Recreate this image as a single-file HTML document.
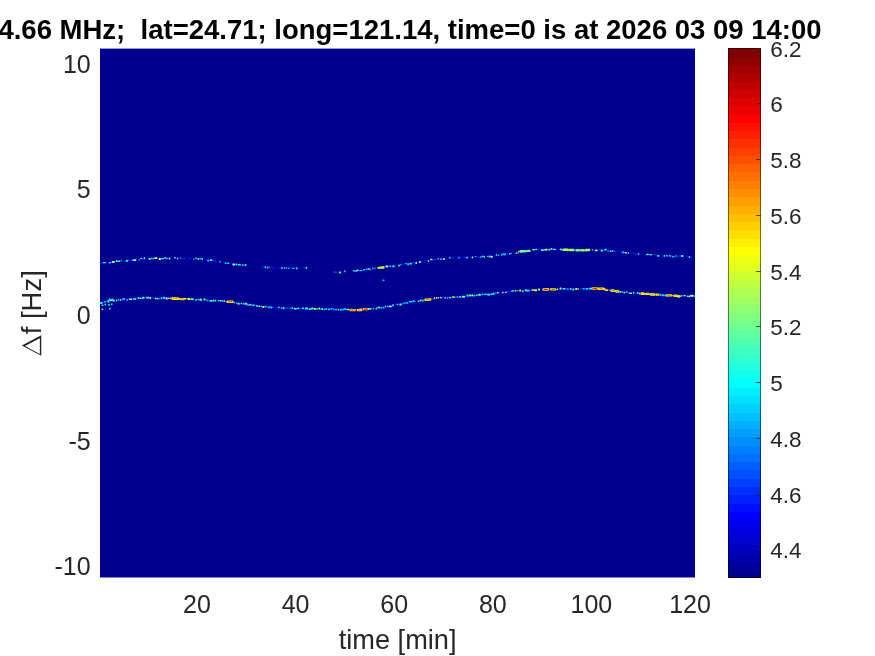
<!DOCTYPE html>
<html><head><meta charset="utf-8"><title>spectrogram</title>
<style>
html,body{margin:0;padding:0;background:#fff;}
body{width:875px;height:656px;overflow:hidden;font-family:"Liberation Sans",sans-serif;}
svg{display:block;will-change:transform;transform:translateZ(0);}
svg text{font-family:"Liberation Sans",sans-serif;white-space:pre;}
#labels{fill:#262626;}
</style></head><body>
<svg width="875" height="656" viewBox="0 0 875 656">
<g id="plot">
<rect x="100.0" y="48.6" width="595.0" height="528.9" fill="#00008f"/>
<g shape-rendering="auto">
<path d="M100.0,263.6 L103.0,263.2 L106.0,262.8 L109.0,262.4 L112.0,262.0 L115.0,261.6 L118.0,261.3 L121.0,260.9 L124.0,260.6 L127.0,260.3 L130.0,260.0 L133.0,259.7 L136.0,259.4 L139.0,259.2 L142.0,258.9 L145.0,258.6 L148.0,258.5 L151.0,258.5 L154.0,258.4 L157.0,258.4 L160.0,258.4 L163.0,258.4 L166.0,258.4 L169.0,258.3 L172.0,258.3 L175.0,258.3 L178.0,258.4 L181.0,258.5 L184.0,258.5 L187.0,258.6 L190.0,258.7 L193.0,258.8 L196.0,258.9 L199.0,259.0 L202.0,259.2 L205.0,259.7 L208.0,260.2 L211.0,260.6 L214.0,261.1 L217.0,261.6 L220.0,262.0 L223.0,262.5 L226.0,263.0 L229.0,263.4 L232.0,263.9 L235.0,264.4 L238.0,264.8 L241.0,265.0 L244.0,265.3 L247.0,265.5 L250.0,265.7 L250.0,265.7 M262.0,266.7 L265.0,267.0 L268.0,267.2 L271.0,267.4 L274.0,267.7 L277.0,267.9 L280.0,268.0 L283.0,268.0 L286.0,268.0 L289.0,268.0 L292.0,268.0 L295.0,268.0 L298.0,268.0 L301.0,268.0 L304.0,268.0 L305.0,268.2 M333.0,271.9 L336.0,272.3 L339.0,272.1 L342.0,271.8 L345.0,271.6 L345.0,271.6 M352.0,271.1 L355.0,270.9 L358.0,270.6 L361.0,270.4 L364.0,270.0 L367.0,269.6 L370.0,269.2 L373.0,268.8 L376.0,268.4 L379.0,268.0 L382.0,267.6 L385.0,267.1 L388.0,266.7 L391.0,266.2 L394.0,265.8 L397.0,265.4 L400.0,264.9 L403.0,264.5 L406.0,264.0 L409.0,263.6 L412.0,263.1 L415.0,262.6 L418.0,262.1 L421.0,261.7 L424.0,261.2 L427.0,260.7 L430.0,260.2 L433.0,259.7 L436.0,259.2 L439.0,258.8 L442.0,258.6 L445.0,258.4 L448.0,258.2 L451.0,258.0 L454.0,257.9 L457.0,257.7 L460.0,257.5 L463.0,257.4 L466.0,257.3 L469.0,257.2 L472.0,257.1 L475.0,257.0 L478.0,257.0 L481.0,256.9 L484.0,256.8 L487.0,256.7 L490.0,256.3 L493.0,255.9 L496.0,255.6 L499.0,255.2 L502.0,254.9 L505.0,254.5 L508.0,254.1 L511.0,253.7 L514.0,253.1 L517.0,252.5 L520.0,251.9 L523.0,251.3 L526.0,250.8 L529.0,250.6 L532.0,250.4 L535.0,250.1 L538.0,249.9 L541.0,249.6 L544.0,249.4 L547.0,249.2 L550.0,249.2 L553.0,249.3 L556.0,249.3 L559.0,249.4 L562.0,249.5 L565.0,249.6 L568.0,249.7 L571.0,249.8 L574.0,249.9 L577.0,250.0 L580.0,250.1 L583.0,250.1 L586.0,250.1 L589.0,250.1 L592.0,250.1 L595.0,250.1 L598.0,250.1 L601.0,250.1 L604.0,250.1 L607.0,250.3 L610.0,250.7 L613.0,251.0 L616.0,251.4 L619.0,251.8 L622.0,252.2 L625.0,252.6 L628.0,252.9 L631.0,253.3 L634.0,253.6 L637.0,254.0 L640.0,254.3 L643.0,254.7 L646.0,254.8 L649.0,254.9 L652.0,255.1 L655.0,255.2 L658.0,255.3 L661.0,255.5 L664.0,255.6 L667.0,255.7 L670.0,255.9 L673.0,256.0 L676.0,256.2 L679.0,256.3 L682.0,256.5 L685.0,256.7 L688.0,256.8 L691.0,257.0 L694.0,257.1 L695.0,257.2" fill="none" stroke="#0000af" stroke-opacity="0.5" stroke-width="3.4" stroke-dasharray="5.3 2.9 7.6 2.4 6.8 4.2 3.4 5.0 3.3 4.6 3.5 2.5 6.0 7.0 3.9 3.3 7.4 7.7 7.0 4.4 9.8 2.3 9.0 3.7 4.0 2.7 5.2 6.9 4.3 5.5 7.5 4.2 6.8 2.4 3.4 3.2 7.8 4.6 5.2 5.5 6.2 3.8 8.6 6.2 4.7 5.4 6.7 7.3 8.1 3.7 9.9 2.7 5.9 6.5 4.1 4.9 3.3 6.0 8.4 5.4 9.1 3.9 7.9 5.6 7.1 4.7 8.9 7.7 6.3 6.0 3.4 6.2 7.5 8.0 8.8 3.7 5.7 6.0 3.2 4.8 4.2 2.7 3.4 6.6 3.9 3.5 5.7 7.2 3.6 4.7 6.8 7.3 8.7 7.2 4.9 4.5 5.5 7.3 9.7 2.9 4.2 3.4 4.6 4.9 7.1 3.6 3.0 4.5 5.6 5.4 9.7 6.1 6.6 5.7 7.7 2.3 9.3 6.7 9.1 6.8 5.7 4.4 3.7 5.8 3.4 2.4 4.5 3.0"/>
<path d="M100.0,263.6 L103.0,263.2 L106.0,262.8 L109.0,262.4 L112.0,262.0 L115.0,261.6 L118.0,261.3 L121.0,260.9 L124.0,260.6 L127.0,260.3 L130.0,260.0 L133.0,259.7 L136.0,259.4 L139.0,259.2 L142.0,258.9 L145.0,258.6 L148.0,258.5 L151.0,258.5 L154.0,258.4 L157.0,258.4 L160.0,258.4 L163.0,258.4 L166.0,258.4 L169.0,258.3 L172.0,258.3 L175.0,258.3 L178.0,258.4 L181.0,258.5 L184.0,258.5 L187.0,258.6 L190.0,258.7 L193.0,258.8 L196.0,258.9 L199.0,259.0 L202.0,259.2 L205.0,259.7 L208.0,260.2 L211.0,260.6 L214.0,261.1 L217.0,261.6 L220.0,262.0 L223.0,262.5 L226.0,263.0 L229.0,263.4 L232.0,263.9 L235.0,264.4 L238.0,264.8 L241.0,265.0 L244.0,265.3 L247.0,265.5 L250.0,265.7 L250.0,265.7 M262.0,266.7 L265.0,267.0 L268.0,267.2 L271.0,267.4 L274.0,267.7 L277.0,267.9 L280.0,268.0 L283.0,268.0 L286.0,268.0 L289.0,268.0 L292.0,268.0 L295.0,268.0 L298.0,268.0 L301.0,268.0 L304.0,268.0 L305.0,268.2 M333.0,271.9 L336.0,272.3 L339.0,272.1 L342.0,271.8 L345.0,271.6 L345.0,271.6 M352.0,271.1 L355.0,270.9 L358.0,270.6 L361.0,270.4 L364.0,270.0 L367.0,269.6 L370.0,269.2 L373.0,268.8 L376.0,268.4 L379.0,268.0 L382.0,267.6 L385.0,267.1 L388.0,266.7 L391.0,266.2 L394.0,265.8 L397.0,265.4 L400.0,264.9 L403.0,264.5 L406.0,264.0 L409.0,263.6 L412.0,263.1 L415.0,262.6 L418.0,262.1 L421.0,261.7 L424.0,261.2 L427.0,260.7 L430.0,260.2 L433.0,259.7 L436.0,259.2 L439.0,258.8 L442.0,258.6 L445.0,258.4 L448.0,258.2 L451.0,258.0 L454.0,257.9 L457.0,257.7 L460.0,257.5 L463.0,257.4 L466.0,257.3 L469.0,257.2 L472.0,257.1 L475.0,257.0 L478.0,257.0 L481.0,256.9 L484.0,256.8 L487.0,256.7 L490.0,256.3 L493.0,255.9 L496.0,255.6 L499.0,255.2 L502.0,254.9 L505.0,254.5 L508.0,254.1 L511.0,253.7 L514.0,253.1 L517.0,252.5 L520.0,251.9 L523.0,251.3 L526.0,250.8 L529.0,250.6 L532.0,250.4 L535.0,250.1 L538.0,249.9 L541.0,249.6 L544.0,249.4 L547.0,249.2 L550.0,249.2 L553.0,249.3 L556.0,249.3 L559.0,249.4 L562.0,249.5 L565.0,249.6 L568.0,249.7 L571.0,249.8 L574.0,249.9 L577.0,250.0 L580.0,250.1 L583.0,250.1 L586.0,250.1 L589.0,250.1 L592.0,250.1 L595.0,250.1 L598.0,250.1 L601.0,250.1 L604.0,250.1 L607.0,250.3 L610.0,250.7 L613.0,251.0 L616.0,251.4 L619.0,251.8 L622.0,252.2 L625.0,252.6 L628.0,252.9 L631.0,253.3 L634.0,253.6 L637.0,254.0 L640.0,254.3 L643.0,254.7 L646.0,254.8 L649.0,254.9 L652.0,255.1 L655.0,255.2 L658.0,255.3 L661.0,255.5 L664.0,255.6 L667.0,255.7 L670.0,255.9 L673.0,256.0 L676.0,256.2 L679.0,256.3 L682.0,256.5 L685.0,256.7 L688.0,256.8 L691.0,257.0 L694.0,257.1 L695.0,257.2" fill="none" stroke="#0050ff" stroke-opacity="0.50" stroke-width="1.5" stroke-dasharray="2.7 2.8 1.5 3.5 1.9 4.9 1.6 8.2 3.6 3.5 2.4 4.8 2.8 3.3 4.5 9.0 3.1 5.6 1.8 3.2 2.7 4.2 4.4 3.5 1.6 8.7 3.3 3.5 3.4 2.7 3.3 8.9 4.5 7.0 2.4 4.9 2.1 7.5 3.4 7.6 2.7 3.9 4.3 8.9 4.5 7.7 4.4 7.3 2.3 5.9 2.7 2.7 1.6 4.3 2.4 7.0 4.8 5.4 4.8 8.9 4.8 4.9 2.3 4.0 2.2 3.8 3.7 8.4 4.4 5.6 3.8 7.7 1.8 6.8 4.7 7.6 4.1 5.6 2.1 7.6 2.7 7.7 4.9 5.1 2.9 8.7 4.0 3.6 1.9 3.5 4.7 7.7 2.0 7.9 4.9 6.8 2.7 6.1 2.0 2.6 4.9 6.7 3.3 8.6 3.0 8.2 4.4 3.9 2.4 4.4 2.3 6.3 2.4 5.2 2.0 8.4 2.7 5.5 3.5 8.4 3.0 8.5 3.3 6.0 3.3 2.6 3.0 3.7 1.5 7.7 2.1 5.6 4.0 6.1 2.6 5.9 3.4 7.6 1.9 6.1 2.4 4.3 4.2 5.8 3.5 7.4 4.7 5.4 3.6 5.8 3.3 7.0 3.1 6.0 3.2 8.6"/>
<rect x="102.8" y="261.9" width="3.0" height="1.4" rx="0.5" fill="#30ffcf"/>
<rect x="108.8" y="262.0" width="2.0" height="1.6" rx="0.5" fill="#00ffff"/>
<rect x="111.8" y="261.1" width="3.0" height="2.0" rx="0.5" fill="#80ff80"/>
<rect x="115.8" y="260.1" width="1.5" height="1.8" rx="0.5" fill="#80ff80"/>
<rect x="117.6" y="260.6" width="2.5" height="1.4" rx="0.5" fill="#10ffef"/>
<rect x="120.6" y="259.8" width="1.2" height="1.6" rx="0.5" fill="#00cfff"/>
<rect x="125.6" y="259.9" width="2.5" height="1.8" rx="0.5" fill="#10ffef"/>
<rect x="131.9" y="259.4" width="1.0" height="1.6" rx="0.5" fill="#10ffef"/>
<rect x="133.2" y="259.3" width="3.0" height="1.8" rx="0.5" fill="#a8f8ff"/>
<rect x="138.7" y="258.9" width="1.0" height="1.6" rx="0.5" fill="#40ffbf"/>
<rect x="140.2" y="257.7" width="2.0" height="1.4" rx="0.5" fill="#00ffff"/>
<rect x="143.7" y="257.3" width="1.5" height="2.0" rx="0.5" fill="#70ff8f"/>
<rect x="148.7" y="258.1" width="2.0" height="1.6" rx="0.5" fill="#60ff9f"/>
<rect x="151.0" y="257.6" width="1.5" height="2.0" rx="0.5" fill="#00bfff"/>
<rect x="152.8" y="257.4" width="1.2" height="1.8" rx="0.5" fill="#30ffcf"/>
<rect x="154.3" y="257.3" width="3.0" height="1.8" rx="0.5" fill="#efff10"/>
<rect x="158.8" y="258.1" width="2.0" height="1.8" rx="0.5" fill="#d0ffd8"/>
<rect x="161.1" y="257.9" width="3.0" height="1.4" rx="0.5" fill="#10ffef"/>
<rect x="164.4" y="256.9" width="1.5" height="1.8" rx="0.5" fill="#cfff30"/>
<rect x="166.2" y="257.6" width="1.5" height="2.0" rx="0.5" fill="#00cfff"/>
<rect x="168.7" y="257.5" width="1.5" height="2.0" rx="0.5" fill="#a8f8ff"/>
<rect x="174.2" y="257.1" width="1.5" height="1.4" rx="0.5" fill="#60ff9f"/>
<rect x="177.2" y="257.5" width="1.0" height="2.0" rx="0.5" fill="#b8fff0"/>
<rect x="179.7" y="257.0" width="1.2" height="1.8" rx="0.5" fill="#00afff"/>
<rect x="193.3" y="258.2" width="1.0" height="1.6" rx="0.5" fill="#50ffaf"/>
<rect x="195.1" y="257.6" width="1.5" height="1.4" rx="0.5" fill="#30ffcf"/>
<rect x="197.4" y="258.1" width="2.0" height="1.6" rx="0.5" fill="#40ffbf"/>
<rect x="200.4" y="257.5" width="1.0" height="2.0" rx="0.5" fill="#40ffbf"/>
<rect x="201.9" y="258.0" width="1.2" height="1.8" rx="0.5" fill="#20ffdf"/>
<rect x="207.4" y="259.8" width="1.5" height="1.6" rx="0.5" fill="#00ffff"/>
<rect x="209.9" y="259.3" width="2.5" height="1.8" rx="0.5" fill="#10ffef"/>
<rect x="219.2" y="261.2" width="2.0" height="1.4" rx="0.5" fill="#00cfff"/>
<rect x="225.0" y="262.3" width="1.2" height="1.6" rx="0.5" fill="#30ffcf"/>
<rect x="227.2" y="262.5" width="2.0" height="1.4" rx="0.5" fill="#00ffff"/>
<rect x="232.5" y="263.6" width="2.5" height="1.8" rx="0.5" fill="#a8f8ff"/>
<rect x="235.5" y="263.5" width="1.5" height="1.8" rx="0.5" fill="#60ff9f"/>
<rect x="237.8" y="264.0" width="3.0" height="1.6" rx="0.5" fill="#10ffef"/>
<rect x="241.8" y="263.9" width="1.5" height="2.0" rx="0.5" fill="#00bfff"/>
<rect x="244.8" y="264.1" width="1.5" height="1.8" rx="0.5" fill="#30ffcf"/>
<rect x="264.6" y="266.2" width="1.5" height="2.0" rx="0.5" fill="#00efff"/>
<rect x="267.1" y="266.7" width="1.0" height="2.0" rx="0.5" fill="#00dfff"/>
<rect x="268.6" y="266.2" width="1.2" height="1.4" rx="0.5" fill="#00ffff"/>
<rect x="281.4" y="267.0" width="1.2" height="2.0" rx="0.5" fill="#40ffbf"/>
<rect x="284.1" y="266.9" width="1.0" height="1.8" rx="0.5" fill="#30ffcf"/>
<rect x="285.6" y="267.2" width="1.5" height="1.4" rx="0.5" fill="#00ffff"/>
<rect x="288.1" y="267.4" width="1.2" height="1.6" rx="0.5" fill="#00dfff"/>
<rect x="292.4" y="267.7" width="2.5" height="1.4" rx="0.5" fill="#00bfff"/>
<rect x="295.9" y="267.6" width="1.5" height="1.6" rx="0.5" fill="#40ffbf"/>
<rect x="305.7" y="266.8" width="1.5" height="2.0" rx="0.5" fill="#00ffff"/>
<rect x="335.5" y="271.5" width="1.0" height="1.4" rx="0.5" fill="#00cfff"/>
<rect x="339.0" y="271.6" width="2.0" height="1.8" rx="0.5" fill="#50ffaf"/>
<rect x="344.3" y="270.3" width="1.2" height="2.0" rx="0.5" fill="#60ff9f"/>
<rect x="353.3" y="270.0" width="1.5" height="1.4" rx="0.5" fill="#80ff80"/>
<rect x="355.3" y="270.1" width="1.5" height="1.8" rx="0.5" fill="#20ffdf"/>
<rect x="357.1" y="269.2" width="1.2" height="2.0" rx="0.5" fill="#b8fff0"/>
<rect x="359.3" y="269.9" width="3.0" height="1.4" rx="0.5" fill="#00cfff"/>
<rect x="363.1" y="269.0" width="2.0" height="1.6" rx="0.5" fill="#00dfff"/>
<rect x="365.6" y="268.4" width="1.5" height="1.6" rx="0.5" fill="#00cfff"/>
<rect x="367.4" y="268.3" width="2.5" height="1.4" rx="0.5" fill="#70ff8f"/>
<rect x="370.2" y="268.6" width="1.0" height="1.8" rx="0.5" fill="#00afff"/>
<rect x="372.0" y="267.6" width="1.5" height="1.6" rx="0.5" fill="#00afff"/>
<rect x="374.3" y="267.5" width="1.5" height="1.4" rx="0.5" fill="#00afff"/>
<rect x="377.3" y="267.1" width="2.0" height="1.6" rx="0.5" fill="#dfff20"/>
<rect x="381.9" y="266.2" width="2.5" height="1.6" rx="0.5" fill="#9fff60"/>
<rect x="385.4" y="265.6" width="3.0" height="1.6" rx="0.5" fill="#b8fff0"/>
<rect x="389.4" y="265.4" width="2.0" height="1.4" rx="0.5" fill="#40ffbf"/>
<rect x="392.2" y="265.4" width="2.5" height="1.8" rx="0.5" fill="#00ffff"/>
<rect x="398.2" y="264.6" width="1.5" height="1.8" rx="0.5" fill="#70ff8f"/>
<rect x="400.2" y="263.4" width="1.0" height="2.0" rx="0.5" fill="#00afff"/>
<rect x="405.2" y="262.9" width="1.5" height="1.4" rx="0.5" fill="#10ffef"/>
<rect x="407.2" y="263.2" width="2.0" height="2.0" rx="0.5" fill="#00cfff"/>
<rect x="409.5" y="262.8" width="2.5" height="1.6" rx="0.5" fill="#30ffcf"/>
<rect x="415.5" y="262.1" width="1.5" height="1.8" rx="0.5" fill="#a8f8ff"/>
<rect x="418.8" y="261.1" width="2.0" height="1.8" rx="0.5" fill="#60ff9f"/>
<rect x="428.1" y="260.0" width="1.0" height="2.0" rx="0.5" fill="#70ff8f"/>
<rect x="430.1" y="258.8" width="2.5" height="1.4" rx="0.5" fill="#70ff8f"/>
<rect x="437.7" y="258.1" width="1.2" height="1.6" rx="0.5" fill="#00ffff"/>
<rect x="440.4" y="258.4" width="1.2" height="1.6" rx="0.5" fill="#d0ffd8"/>
<rect x="443.1" y="257.9" width="2.0" height="2.0" rx="0.5" fill="#20ffdf"/>
<rect x="449.1" y="256.8" width="1.5" height="1.6" rx="0.5" fill="#40ffbf"/>
<rect x="458.4" y="256.7" width="1.2" height="1.8" rx="0.5" fill="#00cfff"/>
<rect x="466.4" y="256.7" width="1.5" height="1.8" rx="0.5" fill="#40ffbf"/>
<rect x="471.7" y="256.4" width="1.5" height="1.8" rx="0.5" fill="#b8fff0"/>
<rect x="474.7" y="255.7" width="1.0" height="1.4" rx="0.5" fill="#80ff80"/>
<rect x="480.2" y="256.2" width="1.5" height="1.6" rx="0.5" fill="#00ffff"/>
<rect x="482.2" y="255.4" width="1.5" height="1.8" rx="0.5" fill="#60ff9f"/>
<rect x="484.0" y="255.8" width="1.0" height="2.0" rx="0.5" fill="#80ff80"/>
<rect x="487.3" y="255.7" width="1.0" height="1.4" rx="0.5" fill="#a8f8ff"/>
<rect x="488.8" y="255.4" width="1.5" height="2.0" rx="0.5" fill="#20ffdf"/>
<rect x="490.6" y="255.7" width="2.0" height="2.0" rx="0.5" fill="#d0ffd8"/>
<rect x="495.8" y="254.3" width="1.5" height="1.4" rx="0.5" fill="#10ffef"/>
<rect x="498.1" y="254.4" width="1.0" height="1.8" rx="0.5" fill="#40ffbf"/>
<rect x="501.1" y="253.8" width="1.5" height="1.6" rx="0.5" fill="#00ffff"/>
<rect x="503.1" y="253.3" width="2.5" height="2.0" rx="0.5" fill="#00dfff"/>
<rect x="509.1" y="253.0" width="1.5" height="1.4" rx="0.5" fill="#b8fff0"/>
<rect x="510.9" y="252.5" width="1.2" height="1.4" rx="0.5" fill="#00afff"/>
<rect x="515.7" y="252.4" width="2.0" height="1.4" rx="0.5" fill="#ffff00"/>
<rect x="518.0" y="251.0" width="1.5" height="1.4" rx="0.5" fill="#dfff20"/>
<rect x="520.5" y="251.1" width="1.2" height="1.8" rx="0.5" fill="#efff10"/>
<rect x="522.5" y="250.3" width="2.5" height="1.4" rx="0.5" fill="#50ffaf"/>
<rect x="532.3" y="249.0" width="2.5" height="1.4" rx="0.5" fill="#80ff80"/>
<rect x="535.1" y="248.7" width="2.0" height="1.4" rx="0.5" fill="#00ffff"/>
<rect x="540.9" y="249.3" width="3.0" height="1.6" rx="0.5" fill="#40ffbf"/>
<rect x="544.4" y="248.8" width="3.0" height="2.0" rx="0.5" fill="#80ff80"/>
<rect x="548.2" y="249.0" width="2.0" height="1.4" rx="0.5" fill="#60ff9f"/>
<rect x="550.5" y="248.1" width="2.0" height="1.6" rx="0.5" fill="#60ff9f"/>
<rect x="553.0" y="248.7" width="3.0" height="1.4" rx="0.5" fill="#50ffaf"/>
<rect x="560.0" y="248.6" width="2.0" height="1.6" rx="0.5" fill="#20ffdf"/>
<rect x="562.5" y="249.1" width="1.5" height="1.6" rx="0.5" fill="#20ffdf"/>
<rect x="564.8" y="248.7" width="2.0" height="1.4" rx="0.5" fill="#bfff40"/>
<rect x="567.1" y="249.4" width="1.5" height="1.8" rx="0.5" fill="#60ff9f"/>
<rect x="568.9" y="249.5" width="1.2" height="1.4" rx="0.5" fill="#60ff9f"/>
<rect x="571.1" y="249.2" width="1.5" height="1.6" rx="0.5" fill="#40ffbf"/>
<rect x="579.6" y="249.4" width="1.5" height="1.8" rx="0.5" fill="#40ffbf"/>
<rect x="581.4" y="249.2" width="2.5" height="1.6" rx="0.5" fill="#40ffbf"/>
<rect x="584.9" y="249.7" width="3.0" height="1.6" rx="0.5" fill="#50ffaf"/>
<rect x="592.2" y="249.0" width="1.0" height="1.6" rx="0.5" fill="#80ff80"/>
<rect x="594.7" y="249.5" width="3.0" height="1.8" rx="0.5" fill="#80ff80"/>
<rect x="600.7" y="249.7" width="2.5" height="1.8" rx="0.5" fill="#00ffff"/>
<rect x="604.2" y="248.7" width="2.5" height="1.8" rx="0.5" fill="#00efff"/>
<rect x="607.5" y="249.9" width="1.2" height="1.6" rx="0.5" fill="#00dfff"/>
<rect x="609.7" y="250.4" width="1.5" height="1.6" rx="0.5" fill="#70ff8f"/>
<rect x="611.7" y="250.1" width="1.5" height="2.0" rx="0.5" fill="#00dfff"/>
<rect x="621.8" y="251.4" width="2.5" height="1.8" rx="0.5" fill="#00cfff"/>
<rect x="624.8" y="252.0" width="2.0" height="1.4" rx="0.5" fill="#d0ffd8"/>
<rect x="627.8" y="252.3" width="1.0" height="1.6" rx="0.5" fill="#80ff80"/>
<rect x="637.8" y="253.3" width="1.5" height="1.4" rx="0.5" fill="#80ff80"/>
<rect x="646.3" y="253.7" width="2.5" height="1.4" rx="0.5" fill="#70ff8f"/>
<rect x="649.3" y="253.9" width="3.0" height="1.4" rx="0.5" fill="#20ffdf"/>
<rect x="657.3" y="255.1" width="2.0" height="1.6" rx="0.5" fill="#50ffaf"/>
<rect x="663.6" y="255.0" width="1.5" height="1.8" rx="0.5" fill="#10ffef"/>
<rect x="665.9" y="255.0" width="2.0" height="1.6" rx="0.5" fill="#00cfff"/>
<rect x="668.9" y="255.0" width="2.0" height="1.8" rx="0.5" fill="#00cfff"/>
<rect x="671.9" y="255.7" width="2.5" height="1.8" rx="0.5" fill="#00bfff"/>
<rect x="675.4" y="255.3" width="1.2" height="1.4" rx="0.5" fill="#00ffff"/>
<rect x="680.9" y="254.9" width="2.5" height="2.0" rx="0.5" fill="#00ffff"/>
<rect x="688.9" y="256.3" width="1.2" height="1.6" rx="0.5" fill="#10ffef"/>
<rect x="378.4" y="266.4" width="6.2" height="2.4" rx="1.2" fill="#9fff60"/>
<rect x="379.5" y="267.1" width="4.0" height="1.1" rx="0.5" fill="#ffdf00"/>
<rect x="519.4" y="250.0" width="7.6" height="2.4" rx="1.2" fill="#60ff9f"/>
<rect x="526.6" y="249.7" width="4.0" height="2.4" rx="1.2" fill="#8fff70"/>
<rect x="562.4" y="248.6" width="6.5" height="2.4" rx="1.2" fill="#afff50"/>
<rect x="568.6" y="248.8" width="6.1" height="2.4" rx="1.2" fill="#9fff60"/>
<rect x="575.3" y="249.0" width="4.7" height="2.4" rx="1.2" fill="#80ff80"/>
<rect x="580.5" y="249.0" width="4.5" height="2.4" rx="1.2" fill="#8fff70"/>
<rect x="585.0" y="248.8" width="5.2" height="2.4" rx="1.2" fill="#afff50"/>
<path d="M100.0,303.0 L103.0,302.2 L106.0,301.5 L109.0,300.8 L112.0,300.4 L115.0,300.1 L118.0,299.9 L121.0,299.7 L124.0,299.5 L127.0,299.3 L130.0,299.0 L133.0,298.8 L136.0,298.6 L139.0,298.4 L142.0,298.2 L145.0,298.0 L148.0,297.9 L151.0,298.0 L154.0,298.1 L157.0,298.1 L160.0,298.2 L163.0,298.3 L166.0,298.3 L169.0,298.4 L172.0,298.4 L175.0,298.5 L178.0,298.6 L181.0,298.8 L184.0,298.9 L187.0,299.1 L190.0,299.2 L193.0,299.3 L196.0,299.5 L199.0,299.6 L202.0,299.8 L205.0,300.0 L208.0,300.2 L211.0,300.5 L214.0,300.7 L217.0,300.9 L220.0,301.1 L223.0,301.3 L226.0,301.6 L229.0,301.8 L232.0,302.3 L235.0,302.7 L238.0,303.1 L241.0,303.6 L244.0,304.0 L247.0,304.4 L250.0,304.9 L253.0,305.3 L256.0,305.7 L259.0,306.2 L262.0,306.4 L265.0,306.6 L268.0,306.8 L271.0,307.0 L274.0,307.2 L277.0,307.5 L280.0,307.7 L283.0,307.9 L286.0,308.1 L289.0,308.3 L292.0,308.5 L295.0,308.6 L298.0,308.7 L301.0,308.7 L304.0,308.8 L307.0,308.8 L310.0,308.9 L313.0,308.9 L316.0,309.0 L319.0,309.0 L322.0,309.1 L325.0,309.1 L328.0,309.2 L331.0,309.2 L334.0,309.3 L337.0,309.3 L340.0,309.4 L343.0,309.5 L346.0,309.6 L349.0,309.7 L352.0,309.8 L355.0,309.9 L358.0,310.0 L361.0,309.8 L364.0,309.4 L367.0,309.1 L370.0,308.8 L373.0,308.5 L376.0,308.2 L379.0,307.9 L382.0,307.5 L385.0,306.9 L388.0,306.4 L391.0,305.8 L394.0,305.2 L397.0,304.7 L400.0,304.1 L403.0,303.5 L406.0,303.0 L409.0,302.4 L412.0,301.9 L415.0,301.5 L418.0,301.0 L421.0,300.6 L424.0,300.1 L427.0,299.7 L430.0,299.2 L433.0,298.8 L436.0,298.3 L439.0,297.9 L442.0,297.7 L445.0,297.6 L448.0,297.4 L451.0,297.2 L454.0,297.1 L457.0,296.9 L460.0,296.8 L463.0,296.5 L466.0,296.3 L469.0,296.0 L472.0,295.7 L475.0,295.4 L478.0,295.2 L481.0,294.9 L484.0,294.6 L487.0,294.3 L490.0,294.0 L493.0,293.6 L496.0,293.2 L499.0,292.8 L502.0,292.4 L505.0,292.0 L508.0,291.7 L511.0,291.3 L514.0,291.2 L517.0,291.0 L520.0,290.8 L523.0,290.6 L526.0,290.4 L529.0,290.2 L532.0,290.1 L535.0,289.9 L538.0,289.7 L541.0,289.5 L544.0,289.3 L547.0,289.2 L550.0,289.1 L553.0,289.1 L556.0,289.1 L559.0,289.1 L562.0,289.1 L565.0,289.1 L568.0,289.1 L571.0,289.1 L574.0,289.1 L577.0,289.1 L580.0,289.1 L583.0,289.0 L586.0,288.9 L589.0,288.8 L592.0,288.6 L595.0,288.5 L598.0,288.4 L601.0,288.9 L604.0,289.3 L607.0,289.8 L610.0,290.2 L613.0,290.7 L616.0,291.1 L619.0,291.5 L622.0,291.8 L625.0,292.2 L628.0,292.5 L631.0,292.9 L634.0,293.1 L637.0,293.3 L640.0,293.6 L643.0,293.8 L646.0,294.0 L649.0,294.2 L652.0,294.5 L655.0,294.7 L658.0,294.9 L661.0,295.1 L664.0,295.3 L667.0,295.5 L670.0,295.7 L673.0,295.9 L676.0,295.9 L679.0,296.0 L682.0,296.0 L685.0,296.1 L688.0,296.1 L691.0,296.1 L694.0,296.2 L695.0,296.2" fill="none" stroke="#0000af" stroke-opacity="0.5" stroke-width="3.4" stroke-dasharray="20.2 1.9 10.6 1.3 13.6 1.3 13.8 2.1 22.8 0.6 16.2 0.6 8.1 2.5 16.4 2.8 14.0 0.5 13.0 2.0 22.9 3.0 14.6 1.5 7.8 2.1 9.8 0.9 6.3 0.5 18.3 0.8 23.4 0.7 21.7 0.8 6.3 2.3 10.4 2.3 9.4 0.6 19.9 2.3 21.4 2.3 7.5 2.1 18.8 1.7 22.8 1.1 23.4 2.3 6.2 0.5 17.7 2.5 7.4 1.3 19.1 0.9 21.5 1.7 7.1 1.4 16.3 1.6 18.2 0.9 20.4 1.4 17.6 2.1 13.5 1.5 20.2 2.9 20.1 1.9 11.3 0.7 23.5 2.3"/>
<path d="M100.0,303.0 L103.0,302.2 L106.0,301.5 L109.0,300.8 L112.0,300.4 L115.0,300.1 L118.0,299.9 L121.0,299.7 L124.0,299.5 L127.0,299.3 L130.0,299.0 L133.0,298.8 L136.0,298.6 L139.0,298.4 L142.0,298.2 L145.0,298.0 L148.0,297.9 L151.0,298.0 L154.0,298.1 L157.0,298.1 L160.0,298.2 L163.0,298.3 L166.0,298.3 L169.0,298.4 L172.0,298.4 L175.0,298.5 L178.0,298.6 L181.0,298.8 L184.0,298.9 L187.0,299.1 L190.0,299.2 L193.0,299.3 L196.0,299.5 L199.0,299.6 L202.0,299.8 L205.0,300.0 L208.0,300.2 L211.0,300.5 L214.0,300.7 L217.0,300.9 L220.0,301.1 L223.0,301.3 L226.0,301.6 L229.0,301.8 L232.0,302.3 L235.0,302.7 L238.0,303.1 L241.0,303.6 L244.0,304.0 L247.0,304.4 L250.0,304.9 L253.0,305.3 L256.0,305.7 L259.0,306.2 L262.0,306.4 L265.0,306.6 L268.0,306.8 L271.0,307.0 L274.0,307.2 L277.0,307.5 L280.0,307.7 L283.0,307.9 L286.0,308.1 L289.0,308.3 L292.0,308.5 L295.0,308.6 L298.0,308.7 L301.0,308.7 L304.0,308.8 L307.0,308.8 L310.0,308.9 L313.0,308.9 L316.0,309.0 L319.0,309.0 L322.0,309.1 L325.0,309.1 L328.0,309.2 L331.0,309.2 L334.0,309.3 L337.0,309.3 L340.0,309.4 L343.0,309.5 L346.0,309.6 L349.0,309.7 L352.0,309.8 L355.0,309.9 L358.0,310.0 L361.0,309.8 L364.0,309.4 L367.0,309.1 L370.0,308.8 L373.0,308.5 L376.0,308.2 L379.0,307.9 L382.0,307.5 L385.0,306.9 L388.0,306.4 L391.0,305.8 L394.0,305.2 L397.0,304.7 L400.0,304.1 L403.0,303.5 L406.0,303.0 L409.0,302.4 L412.0,301.9 L415.0,301.5 L418.0,301.0 L421.0,300.6 L424.0,300.1 L427.0,299.7 L430.0,299.2 L433.0,298.8 L436.0,298.3 L439.0,297.9 L442.0,297.7 L445.0,297.6 L448.0,297.4 L451.0,297.2 L454.0,297.1 L457.0,296.9 L460.0,296.8 L463.0,296.5 L466.0,296.3 L469.0,296.0 L472.0,295.7 L475.0,295.4 L478.0,295.2 L481.0,294.9 L484.0,294.6 L487.0,294.3 L490.0,294.0 L493.0,293.6 L496.0,293.2 L499.0,292.8 L502.0,292.4 L505.0,292.0 L508.0,291.7 L511.0,291.3 L514.0,291.2 L517.0,291.0 L520.0,290.8 L523.0,290.6 L526.0,290.4 L529.0,290.2 L532.0,290.1 L535.0,289.9 L538.0,289.7 L541.0,289.5 L544.0,289.3 L547.0,289.2 L550.0,289.1 L553.0,289.1 L556.0,289.1 L559.0,289.1 L562.0,289.1 L565.0,289.1 L568.0,289.1 L571.0,289.1 L574.0,289.1 L577.0,289.1 L580.0,289.1 L583.0,289.0 L586.0,288.9 L589.0,288.8 L592.0,288.6 L595.0,288.5 L598.0,288.4 L601.0,288.9 L604.0,289.3 L607.0,289.8 L610.0,290.2 L613.0,290.7 L616.0,291.1 L619.0,291.5 L622.0,291.8 L625.0,292.2 L628.0,292.5 L631.0,292.9 L634.0,293.1 L637.0,293.3 L640.0,293.6 L643.0,293.8 L646.0,294.0 L649.0,294.2 L652.0,294.5 L655.0,294.7 L658.0,294.9 L661.0,295.1 L664.0,295.3 L667.0,295.5 L670.0,295.7 L673.0,295.9 L676.0,295.9 L679.0,296.0 L682.0,296.0 L685.0,296.1 L688.0,296.1 L691.0,296.1 L694.0,296.2 L695.0,296.2" fill="none" stroke="#0050ff" stroke-opacity="0.60" stroke-width="1.5" stroke-dasharray="7.0 1.5 5.6 3.0 7.0 2.1 3.9 1.7 7.3 1.6 6.1 2.1 7.4 2.6 3.7 0.8 3.6 1.7 5.5 2.6 7.3 0.9 7.0 2.6 7.2 2.1 3.6 2.7 6.8 2.3 7.5 1.6 2.5 2.0 6.8 1.2 6.5 2.8 3.4 2.1 6.1 1.8 3.2 1.4 6.5 2.5 4.8 1.0 6.8 2.5 3.4 2.1 7.4 2.7 5.1 1.8 5.5 1.2 3.2 1.2 6.2 1.6 5.4 1.7 5.1 1.1 2.3 3.0 4.2 1.0 5.8 2.5 2.9 2.1 4.1 1.9 2.1 0.9 7.9 2.7 4.9 2.0 3.6 2.5 4.6 2.9 6.6 2.6 7.8 1.4 2.2 1.2 3.1 1.0 2.3 2.0 7.2 1.8 7.7 2.8 2.4 2.1 4.4 1.1 7.8 1.4 5.4 2.2 7.7 2.3 4.4 1.8 3.0 2.9 8.0 1.3 2.2 1.4 4.1 2.8 7.4 2.6 2.3 2.5 6.3 2.2 7.9 0.9 2.9 2.5 7.6 2.3 3.8 2.1 6.5 1.0 3.9 1.4 2.7 1.9 3.0 1.3 2.9 2.3 2.1 2.4 3.2 0.9 7.6 1.3 7.6 2.7 7.3 1.1 4.7 1.0 7.6 2.7 5.8 1.8 4.0 2.6 4.9 2.2 2.9 1.3 2.3 2.4 5.3 1.1 7.2 1.4 4.5 1.1 3.6 2.6 4.0 1.2 4.9 1.5 7.4 1.1 7.9 0.9 7.4 2.3 3.3 1.9 3.7 1.4 3.2 1.6 7.9 3.0 7.6 1.0 3.7 2.8 2.3 2.4"/>
<rect x="100.3" y="301.9" width="2.0" height="1.8" rx="0.5" fill="#b8fff0"/>
<rect x="103.8" y="300.9" width="2.0" height="1.6" rx="0.5" fill="#00cfff"/>
<rect x="107.3" y="299.8" width="1.5" height="1.6" rx="0.5" fill="#30ffcf"/>
<rect x="109.1" y="299.3" width="3.0" height="1.6" rx="0.5" fill="#40ffbf"/>
<rect x="112.4" y="299.8" width="2.5" height="1.8" rx="0.5" fill="#50ffaf"/>
<rect x="115.9" y="299.6" width="1.2" height="1.8" rx="0.5" fill="#30ffcf"/>
<rect x="117.9" y="299.0" width="1.0" height="1.4" rx="0.5" fill="#50ffaf"/>
<rect x="119.9" y="299.1" width="1.2" height="1.8" rx="0.5" fill="#00ffff"/>
<rect x="122.6" y="298.1" width="1.0" height="2.0" rx="0.5" fill="#a8f8ff"/>
<rect x="124.1" y="298.1" width="1.0" height="1.6" rx="0.5" fill="#10ffef"/>
<rect x="126.6" y="298.9" width="1.0" height="1.8" rx="0.5" fill="#00ffff"/>
<rect x="129.1" y="298.5" width="3.0" height="1.4" rx="0.5" fill="#b8fff0"/>
<rect x="133.1" y="298.3" width="3.0" height="1.4" rx="0.5" fill="#60ff9f"/>
<rect x="137.6" y="297.0" width="1.5" height="2.0" rx="0.5" fill="#20ffdf"/>
<rect x="139.4" y="297.7" width="2.5" height="1.4" rx="0.5" fill="#60ff9f"/>
<rect x="142.2" y="296.8" width="2.0" height="2.0" rx="0.5" fill="#50ffaf"/>
<rect x="145.7" y="296.6" width="1.0" height="1.8" rx="0.5" fill="#30ffcf"/>
<rect x="147.0" y="296.8" width="2.0" height="1.6" rx="0.5" fill="#80ff80"/>
<rect x="149.5" y="296.9" width="1.5" height="2.0" rx="0.5" fill="#b8fff0"/>
<rect x="154.8" y="297.8" width="2.0" height="1.4" rx="0.5" fill="#dfff20"/>
<rect x="157.1" y="297.8" width="1.0" height="1.8" rx="0.5" fill="#50ffaf"/>
<rect x="158.4" y="297.8" width="1.0" height="1.8" rx="0.5" fill="#10ffef"/>
<rect x="160.9" y="297.2" width="1.5" height="2.0" rx="0.5" fill="#00efff"/>
<rect x="163.2" y="296.8" width="2.0" height="2.0" rx="0.5" fill="#30ffcf"/>
<rect x="165.7" y="297.4" width="2.0" height="2.0" rx="0.5" fill="#d0ffd8"/>
<rect x="168.2" y="297.5" width="1.5" height="1.4" rx="0.5" fill="#efff10"/>
<rect x="170.2" y="297.4" width="1.5" height="1.6" rx="0.5" fill="#dfff20"/>
<rect x="172.0" y="296.9" width="1.0" height="2.0" rx="0.5" fill="#00ffff"/>
<rect x="174.0" y="297.2" width="2.0" height="1.6" rx="0.5" fill="#ffff00"/>
<rect x="176.8" y="297.4" width="2.0" height="1.8" rx="0.5" fill="#ffdf00"/>
<rect x="179.1" y="298.1" width="3.0" height="1.6" rx="0.5" fill="#ffff00"/>
<rect x="182.4" y="297.9" width="1.0" height="2.0" rx="0.5" fill="#ffcf00"/>
<rect x="183.9" y="298.0" width="2.5" height="1.4" rx="0.5" fill="#ffff00"/>
<rect x="187.4" y="298.0" width="3.0" height="2.0" rx="0.5" fill="#efff10"/>
<rect x="190.7" y="298.3" width="3.0" height="1.6" rx="0.5" fill="#60ff9f"/>
<rect x="195.2" y="299.2" width="1.5" height="1.6" rx="0.5" fill="#50ffaf"/>
<rect x="197.7" y="298.4" width="1.0" height="1.8" rx="0.5" fill="#00efff"/>
<rect x="199.5" y="298.7" width="2.5" height="2.0" rx="0.5" fill="#70ff8f"/>
<rect x="203.5" y="298.6" width="2.0" height="1.6" rx="0.5" fill="#afff50"/>
<rect x="206.5" y="299.6" width="2.0" height="1.6" rx="0.5" fill="#00bfff"/>
<rect x="209.5" y="299.9" width="3.0" height="1.8" rx="0.5" fill="#00ffff"/>
<rect x="212.8" y="299.6" width="1.5" height="1.8" rx="0.5" fill="#ffdf00"/>
<rect x="214.8" y="299.5" width="1.2" height="2.0" rx="0.5" fill="#20ffdf"/>
<rect x="217.5" y="299.9" width="1.5" height="1.4" rx="0.5" fill="#50ffaf"/>
<rect x="219.3" y="299.9" width="2.5" height="1.4" rx="0.5" fill="#40ffbf"/>
<rect x="222.1" y="300.0" width="1.0" height="1.8" rx="0.5" fill="#80ff80"/>
<rect x="223.6" y="300.3" width="1.5" height="1.4" rx="0.5" fill="#b8fff0"/>
<rect x="226.6" y="301.1" width="3.0" height="1.4" rx="0.5" fill="#9fff60"/>
<rect x="231.1" y="301.3" width="2.0" height="1.4" rx="0.5" fill="#dfff20"/>
<rect x="233.4" y="301.8" width="1.2" height="1.4" rx="0.5" fill="#30ffcf"/>
<rect x="236.1" y="302.4" width="1.0" height="1.4" rx="0.5" fill="#20ffdf"/>
<rect x="237.6" y="302.7" width="2.0" height="2.0" rx="0.5" fill="#40ffbf"/>
<rect x="240.6" y="302.7" width="1.2" height="1.6" rx="0.5" fill="#60ff9f"/>
<rect x="242.8" y="302.7" width="1.0" height="1.8" rx="0.5" fill="#60ff9f"/>
<rect x="244.6" y="302.8" width="2.5" height="2.0" rx="0.5" fill="#50ffaf"/>
<rect x="247.4" y="304.1" width="1.2" height="2.0" rx="0.5" fill="#30ffcf"/>
<rect x="249.4" y="303.8" width="1.5" height="1.6" rx="0.5" fill="#cfff30"/>
<rect x="251.4" y="304.2" width="1.2" height="2.0" rx="0.5" fill="#00dfff"/>
<rect x="253.1" y="304.3" width="1.5" height="1.6" rx="0.5" fill="#40ffbf"/>
<rect x="256.1" y="304.9" width="1.5" height="1.8" rx="0.5" fill="#70ff8f"/>
<rect x="258.4" y="305.5" width="1.5" height="1.4" rx="0.5" fill="#d0ffd8"/>
<rect x="260.9" y="305.5" width="1.0" height="2.0" rx="0.5" fill="#10ffef"/>
<rect x="262.4" y="306.1" width="2.0" height="1.8" rx="0.5" fill="#ffdf00"/>
<rect x="265.2" y="305.7" width="1.5" height="1.6" rx="0.5" fill="#60ff9f"/>
<rect x="267.7" y="306.6" width="3.0" height="1.6" rx="0.5" fill="#00cfff"/>
<rect x="271.2" y="306.5" width="1.0" height="2.0" rx="0.5" fill="#00ffff"/>
<rect x="278.0" y="306.5" width="1.5" height="1.6" rx="0.5" fill="#00ffff"/>
<rect x="281.0" y="307.4" width="1.5" height="1.4" rx="0.5" fill="#80ff80"/>
<rect x="283.0" y="307.2" width="1.5" height="2.0" rx="0.5" fill="#50ffaf"/>
<rect x="289.6" y="307.3" width="1.0" height="1.4" rx="0.5" fill="#00dfff"/>
<rect x="291.6" y="307.0" width="1.5" height="2.0" rx="0.5" fill="#00dfff"/>
<rect x="293.9" y="308.0" width="3.0" height="1.6" rx="0.5" fill="#70ff8f"/>
<rect x="297.2" y="307.5" width="2.0" height="1.6" rx="0.5" fill="#00efff"/>
<rect x="302.0" y="307.5" width="2.0" height="1.6" rx="0.5" fill="#20ffdf"/>
<rect x="305.0" y="307.5" width="3.0" height="2.0" rx="0.5" fill="#20ffdf"/>
<rect x="308.8" y="308.3" width="2.0" height="1.6" rx="0.5" fill="#50ffaf"/>
<rect x="311.1" y="307.5" width="2.5" height="2.0" rx="0.5" fill="#60ff9f"/>
<rect x="313.9" y="308.0" width="2.0" height="1.8" rx="0.5" fill="#dfff20"/>
<rect x="316.4" y="308.0" width="1.2" height="1.8" rx="0.5" fill="#70ff8f"/>
<rect x="318.4" y="307.5" width="2.0" height="2.0" rx="0.5" fill="#afff50"/>
<rect x="321.2" y="308.3" width="2.0" height="1.6" rx="0.5" fill="#80ff80"/>
<rect x="324.0" y="308.4" width="1.2" height="1.8" rx="0.5" fill="#00ffff"/>
<rect x="325.7" y="308.1" width="1.0" height="1.8" rx="0.5" fill="#20ffdf"/>
<rect x="328.2" y="308.5" width="1.5" height="1.8" rx="0.5" fill="#60ff9f"/>
<rect x="330.5" y="307.9" width="2.0" height="1.8" rx="0.5" fill="#00bfff"/>
<rect x="332.8" y="308.6" width="1.0" height="2.0" rx="0.5" fill="#00afff"/>
<rect x="334.3" y="308.9" width="3.0" height="1.4" rx="0.5" fill="#00bfff"/>
<rect x="337.8" y="308.9" width="1.5" height="1.4" rx="0.5" fill="#70ff8f"/>
<rect x="339.8" y="308.9" width="2.0" height="2.0" rx="0.5" fill="#00bfff"/>
<rect x="342.6" y="308.6" width="1.2" height="1.8" rx="0.5" fill="#10ffef"/>
<rect x="344.3" y="308.1" width="1.5" height="1.8" rx="0.5" fill="#00efff"/>
<rect x="346.3" y="308.7" width="3.0" height="1.6" rx="0.5" fill="#60ff9f"/>
<rect x="350.8" y="308.4" width="1.2" height="1.8" rx="0.5" fill="#ffcf00"/>
<rect x="357.0" y="309.1" width="1.5" height="1.4" rx="0.5" fill="#cfff30"/>
<rect x="359.0" y="308.4" width="3.0" height="2.0" rx="0.5" fill="#efff10"/>
<rect x="363.5" y="308.5" width="1.5" height="1.6" rx="0.5" fill="#cfff30"/>
<rect x="366.5" y="308.7" width="1.2" height="1.6" rx="0.5" fill="#ffdf00"/>
<rect x="368.5" y="308.1" width="3.0" height="1.4" rx="0.5" fill="#80ff80"/>
<rect x="373.0" y="307.9" width="1.2" height="1.6" rx="0.5" fill="#00efff"/>
<rect x="375.7" y="307.7" width="1.2" height="2.0" rx="0.5" fill="#60ff9f"/>
<rect x="377.4" y="306.8" width="3.0" height="1.4" rx="0.5" fill="#60ff9f"/>
<rect x="381.2" y="306.8" width="1.0" height="1.8" rx="0.5" fill="#10ffef"/>
<rect x="383.2" y="306.7" width="1.2" height="1.8" rx="0.5" fill="#20ffdf"/>
<rect x="385.2" y="305.5" width="1.0" height="1.8" rx="0.5" fill="#a8f8ff"/>
<rect x="387.0" y="305.5" width="1.2" height="1.4" rx="0.5" fill="#30ffcf"/>
<rect x="388.7" y="305.8" width="3.0" height="1.4" rx="0.5" fill="#d0ffd8"/>
<rect x="392.2" y="304.2" width="1.5" height="2.0" rx="0.5" fill="#20ffdf"/>
<rect x="396.8" y="303.5" width="1.0" height="1.4" rx="0.5" fill="#a8f8ff"/>
<rect x="399.3" y="303.6" width="2.5" height="2.0" rx="0.5" fill="#60ff9f"/>
<rect x="403.3" y="302.6" width="1.2" height="1.6" rx="0.5" fill="#00ffff"/>
<rect x="405.3" y="301.9" width="3.0" height="1.8" rx="0.5" fill="#00afff"/>
<rect x="409.1" y="300.9" width="3.0" height="1.4" rx="0.5" fill="#20ffdf"/>
<rect x="412.6" y="300.3" width="2.0" height="1.8" rx="0.5" fill="#00efff"/>
<rect x="417.9" y="300.6" width="1.2" height="1.4" rx="0.5" fill="#50ffaf"/>
<rect x="419.6" y="299.5" width="1.5" height="1.8" rx="0.5" fill="#80ff80"/>
<rect x="421.6" y="299.7" width="2.0" height="1.8" rx="0.5" fill="#50ffaf"/>
<rect x="424.6" y="299.4" width="2.0" height="1.6" rx="0.5" fill="#00bfff"/>
<rect x="427.1" y="298.8" width="1.0" height="2.0" rx="0.5" fill="#ffcf00"/>
<rect x="428.9" y="297.9" width="1.5" height="1.8" rx="0.5" fill="#80ff80"/>
<rect x="433.9" y="297.3" width="1.2" height="2.0" rx="0.5" fill="#efff10"/>
<rect x="436.1" y="297.1" width="1.2" height="1.8" rx="0.5" fill="#ffdf00"/>
<rect x="437.6" y="296.9" width="1.5" height="1.4" rx="0.5" fill="#ffff00"/>
<rect x="440.1" y="296.8" width="1.5" height="1.4" rx="0.5" fill="#cfff30"/>
<rect x="444.6" y="297.0" width="1.0" height="1.8" rx="0.5" fill="#d0ffd8"/>
<rect x="447.1" y="297.0" width="1.0" height="1.8" rx="0.5" fill="#00ffff"/>
<rect x="449.1" y="297.0" width="2.0" height="1.4" rx="0.5" fill="#00ffff"/>
<rect x="452.1" y="296.2" width="2.5" height="1.8" rx="0.5" fill="#ffcf00"/>
<rect x="455.4" y="296.4" width="1.0" height="1.6" rx="0.5" fill="#00afff"/>
<rect x="456.7" y="296.0" width="1.5" height="1.8" rx="0.5" fill="#00cfff"/>
<rect x="459.2" y="295.9" width="2.0" height="1.8" rx="0.5" fill="#30ffcf"/>
<rect x="462.0" y="295.8" width="3.0" height="2.0" rx="0.5" fill="#80ff80"/>
<rect x="466.5" y="294.6" width="2.0" height="1.8" rx="0.5" fill="#20ffdf"/>
<rect x="469.0" y="294.6" width="2.5" height="1.6" rx="0.5" fill="#afff50"/>
<rect x="471.8" y="294.4" width="1.5" height="1.8" rx="0.5" fill="#b8fff0"/>
<rect x="473.8" y="294.8" width="1.0" height="2.0" rx="0.5" fill="#30ffcf"/>
<rect x="475.6" y="294.4" width="2.5" height="1.4" rx="0.5" fill="#00ffff"/>
<rect x="478.4" y="293.8" width="2.5" height="2.0" rx="0.5" fill="#60ff9f"/>
<rect x="481.9" y="293.4" width="1.5" height="1.6" rx="0.5" fill="#30ffcf"/>
<rect x="484.2" y="293.5" width="2.5" height="1.6" rx="0.5" fill="#00efff"/>
<rect x="487.2" y="293.8" width="3.0" height="1.6" rx="0.5" fill="#40ffbf"/>
<rect x="491.0" y="293.2" width="1.0" height="2.0" rx="0.5" fill="#30ffcf"/>
<rect x="492.5" y="292.8" width="2.0" height="2.0" rx="0.5" fill="#20ffdf"/>
<rect x="495.3" y="292.0" width="1.0" height="1.6" rx="0.5" fill="#00cfff"/>
<rect x="496.8" y="291.9" width="2.0" height="1.4" rx="0.5" fill="#60ff9f"/>
<rect x="502.1" y="291.7" width="1.5" height="1.6" rx="0.5" fill="#ffdf00"/>
<rect x="505.1" y="291.5" width="1.5" height="1.4" rx="0.5" fill="#b8fff0"/>
<rect x="511.4" y="290.2" width="2.5" height="1.4" rx="0.5" fill="#80ff80"/>
<rect x="514.9" y="289.9" width="1.2" height="1.6" rx="0.5" fill="#a8f8ff"/>
<rect x="516.6" y="289.8" width="1.0" height="1.4" rx="0.5" fill="#ffff00"/>
<rect x="519.1" y="289.6" width="2.0" height="2.0" rx="0.5" fill="#ffdf00"/>
<rect x="521.9" y="290.3" width="2.0" height="1.8" rx="0.5" fill="#00dfff"/>
<rect x="524.9" y="289.3" width="2.0" height="2.0" rx="0.5" fill="#60ff9f"/>
<rect x="527.2" y="289.8" width="1.5" height="2.0" rx="0.5" fill="#30ffcf"/>
<rect x="529.0" y="289.9" width="1.2" height="1.4" rx="0.5" fill="#00dfff"/>
<rect x="531.7" y="289.0" width="2.0" height="2.0" rx="0.5" fill="#ffcf00"/>
<rect x="534.0" y="289.3" width="3.0" height="2.0" rx="0.5" fill="#cfff30"/>
<rect x="538.0" y="288.6" width="2.0" height="1.8" rx="0.5" fill="#afff50"/>
<rect x="546.8" y="288.3" width="2.0" height="1.6" rx="0.5" fill="#afff50"/>
<rect x="550.3" y="288.3" width="2.0" height="1.6" rx="0.5" fill="#bfff40"/>
<rect x="552.8" y="288.9" width="3.0" height="1.4" rx="0.5" fill="#50ffaf"/>
<rect x="556.8" y="288.4" width="1.2" height="1.8" rx="0.5" fill="#efff10"/>
<rect x="559.5" y="287.6" width="2.0" height="2.0" rx="0.5" fill="#afff50"/>
<rect x="562.5" y="288.0" width="3.0" height="1.4" rx="0.5" fill="#20ffdf"/>
<rect x="567.0" y="288.2" width="1.5" height="1.8" rx="0.5" fill="#00afff"/>
<rect x="570.0" y="287.9" width="1.5" height="1.8" rx="0.5" fill="#80ff80"/>
<rect x="572.3" y="288.5" width="2.0" height="2.0" rx="0.5" fill="#10ffef"/>
<rect x="575.3" y="287.9" width="2.0" height="2.0" rx="0.5" fill="#ffff00"/>
<rect x="578.1" y="288.0" width="1.0" height="1.8" rx="0.5" fill="#50ffaf"/>
<rect x="582.6" y="287.9" width="2.0" height="1.4" rx="0.5" fill="#00dfff"/>
<rect x="585.6" y="288.1" width="2.5" height="1.4" rx="0.5" fill="#10ffef"/>
<rect x="589.1" y="287.8" width="3.0" height="1.6" rx="0.5" fill="#10ffef"/>
<rect x="593.1" y="288.2" width="1.5" height="1.6" rx="0.5" fill="#ffff00"/>
<rect x="597.9" y="288.1" width="2.0" height="1.6" rx="0.5" fill="#afff50"/>
<rect x="601.4" y="287.5" width="1.0" height="2.0" rx="0.5" fill="#9fff60"/>
<rect x="602.9" y="287.8" width="2.0" height="2.0" rx="0.5" fill="#ffcf00"/>
<rect x="605.4" y="289.3" width="2.5" height="1.8" rx="0.5" fill="#cfff30"/>
<rect x="609.4" y="289.6" width="1.0" height="1.4" rx="0.5" fill="#efff10"/>
<rect x="611.4" y="289.3" width="2.0" height="2.0" rx="0.5" fill="#9fff60"/>
<rect x="614.2" y="290.0" width="2.0" height="1.8" rx="0.5" fill="#dfff20"/>
<rect x="616.7" y="290.3" width="1.5" height="2.0" rx="0.5" fill="#ffef00"/>
<rect x="619.7" y="291.3" width="1.5" height="1.4" rx="0.5" fill="#efff10"/>
<rect x="621.5" y="291.0" width="1.2" height="1.8" rx="0.5" fill="#30ffcf"/>
<rect x="623.5" y="291.5" width="1.5" height="2.0" rx="0.5" fill="#60ff9f"/>
<rect x="626.0" y="291.2" width="1.5" height="1.4" rx="0.5" fill="#b8fff0"/>
<rect x="629.0" y="292.5" width="3.0" height="1.6" rx="0.5" fill="#70ff8f"/>
<rect x="632.8" y="291.9" width="1.5" height="1.6" rx="0.5" fill="#b8fff0"/>
<rect x="637.0" y="292.1" width="1.5" height="2.0" rx="0.5" fill="#20ffdf"/>
<rect x="639.0" y="292.6" width="1.0" height="1.8" rx="0.5" fill="#80ff80"/>
<rect x="640.8" y="293.3" width="2.0" height="1.6" rx="0.5" fill="#ffff00"/>
<rect x="643.1" y="293.4" width="2.0" height="1.4" rx="0.5" fill="#cfff30"/>
<rect x="646.1" y="293.3" width="1.5" height="1.4" rx="0.5" fill="#00ffff"/>
<rect x="650.9" y="293.3" width="1.2" height="2.0" rx="0.5" fill="#10ffef"/>
<rect x="652.9" y="293.8" width="2.0" height="1.6" rx="0.5" fill="#ffef00"/>
<rect x="655.7" y="293.8" width="1.5" height="1.4" rx="0.5" fill="#9fff60"/>
<rect x="660.3" y="294.0" width="1.0" height="1.8" rx="0.5" fill="#d0ffd8"/>
<rect x="661.6" y="294.3" width="3.0" height="2.0" rx="0.5" fill="#00dfff"/>
<rect x="664.9" y="294.7" width="1.0" height="1.6" rx="0.5" fill="#60ff9f"/>
<rect x="666.7" y="294.9" width="1.2" height="1.6" rx="0.5" fill="#10ffef"/>
<rect x="668.9" y="294.5" width="2.0" height="1.4" rx="0.5" fill="#20ffdf"/>
<rect x="672.4" y="294.9" width="1.2" height="1.4" rx="0.5" fill="#ffdf00"/>
<rect x="677.2" y="295.8" width="2.5" height="1.6" rx="0.5" fill="#b8fff0"/>
<rect x="680.7" y="294.9" width="1.5" height="1.6" rx="0.5" fill="#40ffbf"/>
<rect x="683.2" y="294.9" width="2.5" height="1.4" rx="0.5" fill="#afff50"/>
<rect x="687.2" y="295.5" width="1.5" height="1.4" rx="0.5" fill="#d0ffd8"/>
<rect x="689.0" y="295.6" width="1.0" height="1.8" rx="0.5" fill="#efff10"/>
<rect x="690.3" y="294.8" width="3.0" height="2.0" rx="0.5" fill="#b8fff0"/>
<rect x="693.8" y="295.2" width="1.5" height="1.6" rx="0.5" fill="#30ffcf"/>
<rect x="171.4" y="297.5" width="7.7" height="2.4" rx="1.2" fill="#ffff00"/>
<rect x="172.5" y="298.1" width="5.5" height="1.1" rx="0.5" fill="#ffaf00"/>
<rect x="179.4" y="297.9" width="5.2" height="2.4" rx="1.2" fill="#ffef00"/>
<rect x="180.5" y="298.5" width="3.0" height="1.1" rx="0.5" fill="#ff6000"/>
<rect x="226.4" y="300.5" width="7.2" height="2.4" rx="1.2" fill="#efff10"/>
<rect x="227.5" y="301.2" width="5.0" height="1.1" rx="0.5" fill="#ff3000"/>
<rect x="349.4" y="308.9" width="6.5" height="2.4" rx="1.2" fill="#ffef00"/>
<rect x="350.5" y="309.6" width="4.3" height="1.1" rx="0.5" fill="#ff5000"/>
<rect x="356.6" y="308.9" width="5.9" height="2.4" rx="1.2" fill="#ffff00"/>
<rect x="357.7" y="309.5" width="3.7" height="1.1" rx="0.5" fill="#ff5000"/>
<rect x="362.5" y="307.9" width="6.6" height="2.4" rx="1.2" fill="#cfff30"/>
<rect x="363.6" y="308.6" width="4.4" height="1.1" rx="0.5" fill="#ff0000"/>
<rect x="424.4" y="298.4" width="7.0" height="2.4" rx="1.2" fill="#ffff00"/>
<rect x="425.5" y="299.0" width="4.8" height="1.1" rx="0.5" fill="#ff8000"/>
<rect x="542.4" y="288.3" width="6.9" height="2.4" rx="1.2" fill="#efff10"/>
<rect x="543.5" y="288.9" width="4.7" height="1.1" rx="0.5" fill="#ff0000"/>
<rect x="550.3" y="288.2" width="6.1" height="2.4" rx="1.2" fill="#cfff30"/>
<rect x="551.4" y="288.8" width="3.9" height="1.1" rx="0.5" fill="#ff5000"/>
<rect x="591.4" y="287.2" width="7.0" height="2.4" rx="1.2" fill="#dfff20"/>
<rect x="592.5" y="287.8" width="4.8" height="1.1" rx="0.5" fill="#ff2000"/>
<rect x="598.2" y="287.5" width="5.8" height="2.4" rx="1.2" fill="#ffff00"/>
<rect x="599.3" y="288.2" width="3.6" height="1.1" rx="0.5" fill="#ff5000"/>
<rect x="604.2" y="288.5" width="2.4" height="2.4" rx="1.2" fill="#efff10"/>
<rect x="605.3" y="289.1" width="0.8" height="1.1" rx="0.5" fill="#ef0000"/>
<rect x="610.4" y="289.5" width="4.5" height="2.4" rx="1.2" fill="#efff10"/>
<rect x="611.5" y="290.2" width="2.3" height="1.1" rx="0.5" fill="#ff4000"/>
<rect x="615.3" y="290.3" width="4.3" height="2.4" rx="1.2" fill="#cfff30"/>
<rect x="616.4" y="290.9" width="2.1" height="1.1" rx="0.5" fill="#ff7000"/>
<rect x="640.4" y="292.3" width="4.3" height="2.4" rx="1.2" fill="#ffff00"/>
<rect x="641.5" y="293.0" width="2.1" height="1.1" rx="0.5" fill="#ff9f00"/>
<rect x="644.8" y="292.7" width="5.2" height="2.4" rx="1.2" fill="#ffef00"/>
<rect x="645.9" y="293.4" width="3.0" height="1.1" rx="0.5" fill="#ffbf00"/>
<rect x="649.8" y="293.3" width="5.6" height="2.4" rx="1.2" fill="#cfff30"/>
<rect x="650.9" y="293.9" width="3.4" height="1.1" rx="0.5" fill="#ffaf00"/>
<rect x="655.4" y="293.4" width="4.2" height="2.4" rx="1.2" fill="#ffff00"/>
<rect x="656.5" y="294.1" width="2.0" height="1.1" rx="0.5" fill="#ff9f00"/>
<rect x="665.4" y="294.2" width="7.0" height="2.4" rx="1.2" fill="#cfff30"/>
<rect x="666.5" y="294.8" width="4.8" height="1.1" rx="0.5" fill="#ff8000"/>
<rect x="673.2" y="294.6" width="4.8" height="2.4" rx="1.2" fill="#dfff20"/>
<rect x="674.3" y="295.2" width="2.6" height="1.1" rx="0.5" fill="#ff8f00"/>
<rect x="677.9" y="295.0" width="2.7" height="2.4" rx="1.2" fill="#ffff00"/>
<rect x="679.0" y="295.6" width="0.8" height="1.1" rx="0.5" fill="#ff8f00"/>
<rect x="104.5" y="303.7" width="1.6" height="1.6" fill="#30ffcf"/>
<rect x="110.9" y="303.5" width="1.6" height="1.6" fill="#00dfff"/>
<rect x="111.7" y="298.6" width="1.6" height="1.6" fill="#60ff9f"/>
<rect x="108.2" y="304.1" width="1.6" height="1.6" fill="#00ffff"/>
<rect x="109.0" y="307.8" width="1.6" height="1.6" fill="#40ffbf"/>
<rect x="109.0" y="298.4" width="1.6" height="1.6" fill="#00dfff"/>
<rect x="101.6" y="308.5" width="1.6" height="1.6" fill="#70ff8f"/>
<rect x="101.7" y="304.5" width="1.6" height="1.6" fill="#20ffdf"/>
<rect x="100.6" y="302.3" width="1.6" height="1.6" fill="#40ffbf"/>
<rect x="107.7" y="301.1" width="1.6" height="1.6" fill="#50ffaf"/>
<rect x="382.5" y="279.5" width="2" height="1.6" fill="#00bfff"/>
</g>
</g>
<g id="colorbar" shape-rendering="crispEdges">
<rect x="728.00" y="569.52" width="33.00" height="8.58" fill="#00008f"/>
<rect x="728.00" y="561.24" width="33.00" height="8.58" fill="#00009f"/>
<rect x="728.00" y="552.97" width="33.00" height="8.58" fill="#0000af"/>
<rect x="728.00" y="544.69" width="33.00" height="8.58" fill="#0000bf"/>
<rect x="728.00" y="536.41" width="33.00" height="8.58" fill="#0000cf"/>
<rect x="728.00" y="528.13" width="33.00" height="8.58" fill="#0000df"/>
<rect x="728.00" y="519.85" width="33.00" height="8.58" fill="#0000ef"/>
<rect x="728.00" y="511.57" width="33.00" height="8.58" fill="#0000ff"/>
<rect x="728.00" y="503.30" width="33.00" height="8.58" fill="#0010ff"/>
<rect x="728.00" y="495.02" width="33.00" height="8.58" fill="#0020ff"/>
<rect x="728.00" y="486.74" width="33.00" height="8.58" fill="#0030ff"/>
<rect x="728.00" y="478.46" width="33.00" height="8.58" fill="#0040ff"/>
<rect x="728.00" y="470.18" width="33.00" height="8.58" fill="#0050ff"/>
<rect x="728.00" y="461.91" width="33.00" height="8.58" fill="#0060ff"/>
<rect x="728.00" y="453.63" width="33.00" height="8.58" fill="#0070ff"/>
<rect x="728.00" y="445.35" width="33.00" height="8.58" fill="#0080ff"/>
<rect x="728.00" y="437.07" width="33.00" height="8.58" fill="#008fff"/>
<rect x="728.00" y="428.79" width="33.00" height="8.58" fill="#009fff"/>
<rect x="728.00" y="420.52" width="33.00" height="8.58" fill="#00afff"/>
<rect x="728.00" y="412.24" width="33.00" height="8.58" fill="#00bfff"/>
<rect x="728.00" y="403.96" width="33.00" height="8.58" fill="#00cfff"/>
<rect x="728.00" y="395.68" width="33.00" height="8.58" fill="#00dfff"/>
<rect x="728.00" y="387.40" width="33.00" height="8.58" fill="#00efff"/>
<rect x="728.00" y="379.12" width="33.00" height="8.58" fill="#00ffff"/>
<rect x="728.00" y="370.85" width="33.00" height="8.58" fill="#10ffef"/>
<rect x="728.00" y="362.57" width="33.00" height="8.58" fill="#20ffdf"/>
<rect x="728.00" y="354.29" width="33.00" height="8.58" fill="#30ffcf"/>
<rect x="728.00" y="346.01" width="33.00" height="8.58" fill="#40ffbf"/>
<rect x="728.00" y="337.73" width="33.00" height="8.58" fill="#50ffaf"/>
<rect x="728.00" y="329.46" width="33.00" height="8.58" fill="#60ff9f"/>
<rect x="728.00" y="321.18" width="33.00" height="8.58" fill="#70ff8f"/>
<rect x="728.00" y="312.90" width="33.00" height="8.58" fill="#80ff80"/>
<rect x="728.00" y="304.62" width="33.00" height="8.58" fill="#8fff70"/>
<rect x="728.00" y="296.34" width="33.00" height="8.58" fill="#9fff60"/>
<rect x="728.00" y="288.07" width="33.00" height="8.58" fill="#afff50"/>
<rect x="728.00" y="279.79" width="33.00" height="8.58" fill="#bfff40"/>
<rect x="728.00" y="271.51" width="33.00" height="8.58" fill="#cfff30"/>
<rect x="728.00" y="263.23" width="33.00" height="8.58" fill="#dfff20"/>
<rect x="728.00" y="254.95" width="33.00" height="8.58" fill="#efff10"/>
<rect x="728.00" y="246.67" width="33.00" height="8.58" fill="#ffff00"/>
<rect x="728.00" y="238.40" width="33.00" height="8.58" fill="#ffef00"/>
<rect x="728.00" y="230.12" width="33.00" height="8.58" fill="#ffdf00"/>
<rect x="728.00" y="221.84" width="33.00" height="8.58" fill="#ffcf00"/>
<rect x="728.00" y="213.56" width="33.00" height="8.58" fill="#ffbf00"/>
<rect x="728.00" y="205.28" width="33.00" height="8.58" fill="#ffaf00"/>
<rect x="728.00" y="197.01" width="33.00" height="8.58" fill="#ff9f00"/>
<rect x="728.00" y="188.73" width="33.00" height="8.58" fill="#ff8f00"/>
<rect x="728.00" y="180.45" width="33.00" height="8.58" fill="#ff8000"/>
<rect x="728.00" y="172.17" width="33.00" height="8.58" fill="#ff7000"/>
<rect x="728.00" y="163.89" width="33.00" height="8.58" fill="#ff6000"/>
<rect x="728.00" y="155.62" width="33.00" height="8.58" fill="#ff5000"/>
<rect x="728.00" y="147.34" width="33.00" height="8.58" fill="#ff4000"/>
<rect x="728.00" y="139.06" width="33.00" height="8.58" fill="#ff3000"/>
<rect x="728.00" y="130.78" width="33.00" height="8.58" fill="#ff2000"/>
<rect x="728.00" y="122.50" width="33.00" height="8.58" fill="#ff1000"/>
<rect x="728.00" y="114.23" width="33.00" height="8.58" fill="#ff0000"/>
<rect x="728.00" y="105.95" width="33.00" height="8.58" fill="#ef0000"/>
<rect x="728.00" y="97.67" width="33.00" height="8.58" fill="#df0000"/>
<rect x="728.00" y="89.39" width="33.00" height="8.58" fill="#cf0000"/>
<rect x="728.00" y="81.11" width="33.00" height="8.58" fill="#bf0000"/>
<rect x="728.00" y="72.83" width="33.00" height="8.58" fill="#af0000"/>
<rect x="728.00" y="64.56" width="33.00" height="8.58" fill="#9f0000"/>
<rect x="728.00" y="56.28" width="33.00" height="8.58" fill="#8f0000"/>
<rect x="728.00" y="48.00" width="33.00" height="8.58" fill="#800000"/>
<rect x="728.50" y="48.50" width="32.00" height="528.80" fill="none" stroke="#000000" stroke-opacity="0.5" stroke-width="1" shape-rendering="auto"/>
<line x1="755.50" y1="549.92" x2="761.00" y2="549.92" stroke="#262626" stroke-width="0.8"/>
<line x1="755.50" y1="494.15" x2="761.00" y2="494.15" stroke="#262626" stroke-width="0.8"/>
<line x1="755.50" y1="438.38" x2="761.00" y2="438.38" stroke="#262626" stroke-width="0.8"/>
<line x1="755.50" y1="382.61" x2="761.00" y2="382.61" stroke="#262626" stroke-width="0.8"/>
<line x1="755.50" y1="326.84" x2="761.00" y2="326.84" stroke="#262626" stroke-width="0.8"/>
<line x1="755.50" y1="271.07" x2="761.00" y2="271.07" stroke="#262626" stroke-width="0.8"/>
<line x1="755.50" y1="215.31" x2="761.00" y2="215.31" stroke="#262626" stroke-width="0.8"/>
<line x1="755.50" y1="159.54" x2="761.00" y2="159.54" stroke="#262626" stroke-width="0.8"/>
<line x1="755.50" y1="103.77" x2="761.00" y2="103.77" stroke="#262626" stroke-width="0.8"/>
<line x1="755.50" y1="48.00" x2="761.00" y2="48.00" stroke="#262626" stroke-width="0.8"/>
</g>
<g id="labels">
<text x="197.00" y="612.50" text-anchor="middle" font-size="25.00" font-weight="normal" >20</text>
<text x="295.60" y="612.50" text-anchor="middle" font-size="25.00" font-weight="normal" >40</text>
<text x="394.20" y="612.50" text-anchor="middle" font-size="25.00" font-weight="normal" >60</text>
<text x="492.80" y="612.50" text-anchor="middle" font-size="25.00" font-weight="normal" >80</text>
<text x="591.40" y="612.50" text-anchor="middle" font-size="25.00" font-weight="normal" >100</text>
<text x="690.00" y="612.50" text-anchor="middle" font-size="25.00" font-weight="normal" >120</text>
<text x="90.70" y="72.50" text-anchor="end" font-size="25.00" font-weight="normal" >10</text>
<text x="90.70" y="198.20" text-anchor="end" font-size="25.00" font-weight="normal" >5</text>
<text x="90.70" y="323.90" text-anchor="end" font-size="25.00" font-weight="normal" >0</text>
<text x="90.70" y="449.60" text-anchor="end" font-size="25.00" font-weight="normal" >-5</text>
<text x="90.70" y="575.30" text-anchor="end" font-size="25.00" font-weight="normal" >-10</text>
<text x="770.30" y="558.42" text-anchor="start" font-size="22.50" font-weight="normal" >4.4</text>
<text x="770.30" y="502.65" text-anchor="start" font-size="22.50" font-weight="normal" >4.6</text>
<text x="770.30" y="446.88" text-anchor="start" font-size="22.50" font-weight="normal" >4.8</text>
<text x="770.30" y="391.11" text-anchor="start" font-size="22.50" font-weight="normal" >5</text>
<text x="770.30" y="335.34" text-anchor="start" font-size="22.50" font-weight="normal" >5.2</text>
<text x="770.30" y="279.57" text-anchor="start" font-size="22.50" font-weight="normal" >5.4</text>
<text x="770.30" y="223.81" text-anchor="start" font-size="22.50" font-weight="normal" >5.6</text>
<text x="770.30" y="168.04" text-anchor="start" font-size="22.50" font-weight="normal" >5.8</text>
<text x="770.30" y="112.27" text-anchor="start" font-size="22.50" font-weight="normal" >6</text>
<text x="770.30" y="56.50" text-anchor="start" font-size="22.50" font-weight="normal" >6.2</text>
<text x="397.60" y="649.20" text-anchor="middle" font-size="27.20" font-weight="normal" >time [min]</text>
<text transform="translate(40.9,334.3) rotate(-90)" text-anchor="start" font-size="27.5">f [Hz]</text>
<path transform="translate(41.25,355.75) rotate(-90)" fill-rule="evenodd" d="M0,0 L10.25,-19.4 L20.5,0 Z M1.76,-1.4 L17.5,-1.4 L9.63,-16.3 Z"/>
<text x="821.6" y="39.1" text-anchor="end" font-size="27.5" font-weight="bold" fill="#000" xml:space="preserve">4.66 MHz;  lat=24.71; long=121.14, time=0 is at 2026 03 09 14:00</text>
</g>
</svg>
</body></html>
